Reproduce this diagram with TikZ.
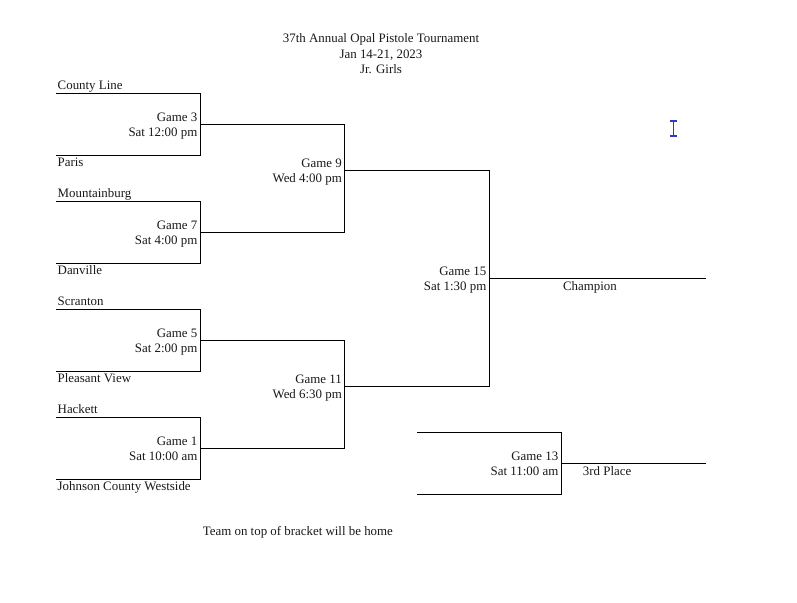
\documentclass[tikz,border=0pt]{standalone}
\usepackage{fontspec}
\setmainfont{Liberation Serif}
\begin{document}
\begin{tikzpicture}[x=1pt,y=-1pt,
  bline/.style={line width=0.9pt, black},
  txt/.style={font=\fontsize{12.9}{15.5}\selectfont, inner sep=0pt, text=black!90},
  gametxt/.style={txt, anchor=base east},
  teamtxt/.style={txt, anchor=base west},
  cursorline/.style={line width=1.1pt, color={rgb,255:red,40;green,60;blue,200}}]
\useasboundingbox[fill=white] (0,0) rectangle (797,602);

% title
\node[txt, anchor=base] (title1) at (381,42.8) {37th Annual Opal Pistole Tournament};
\node[txt, anchor=base] (title2) at (381,58.2) {Jan 14-21, 2023};
\node[txt, anchor=base] (title3) at (381,73.6) {Jr. Girls};

% coordinates
\coordinate (t3) at (56,93);   \coordinate (b3) at (56,155);  \coordinate (g3) at (200.5,124);
\coordinate (t7) at (56,201.5);\coordinate (b7) at (56,263);  \coordinate (g7) at (200.5,232);
\coordinate (t5) at (56,309);  \coordinate (b5) at (56,371);  \coordinate (g5) at (200.5,340.5);
\coordinate (t1) at (56,417);  \coordinate (b1) at (56,479);  \coordinate (g1) at (200.5,448);
\coordinate (g9) at (344.5,170.3);
\coordinate (g11) at (344.5,386.3);
\coordinate (g15) at (489,278.3);
\coordinate (champ) at (706,278.3);
\coordinate (t13) at (417,432.7); \coordinate (b13) at (417,494.3); \coordinate (g13) at (561.5,463.3);
\coordinate (third) at (706,463.3);

% brackets
\draw[bline] (t3) -| (g3) |- (b3);
\draw[bline] (t7) -| (g7) |- (b7);
\draw[bline] (t5) -| (g5) |- (b5);
\draw[bline] (t1) -| (g1) |- (b1);
\draw[bline] (g3) -| (g9);
\draw[bline] (g7) -| (g9);
\draw[bline] (g5) -| (g11);
\draw[bline] (g1) -| (g11);
\draw[bline] (g9) -| (g15);
\draw[bline] (g11) -| (g15);
\draw[bline] (g15) -- (champ);
\draw[bline] (t13) -| (g13) |- (b13);
\draw[bline] (g13) -- (third);

% team names
\node[teamtxt] (n1) at ([shift={(1.5,-3.7)}]t3) {County Line};
\node[teamtxt] (n2) at ([shift={(1.5,11.5)}]b3) {Paris};
\node[teamtxt] (n3) at ([shift={(1.5,-3.7)}]t7) {Mountainburg};
\node[teamtxt] (n4) at ([shift={(1.5,11.5)}]b7) {Danville};
\node[teamtxt] (n5) at ([shift={(1.5,-3.7)}]t5) {Scranton};
\node[teamtxt] (n6) at ([shift={(1.5,11.5)}]b5) {Pleasant View};
\node[teamtxt] (n7) at ([shift={(1.5,-3.7)}]t1) {Hackett};
\node[teamtxt] (n8) at ([shift={(1.5,11.5)}]b1) {Johnson County Westside};

% game labels
\node[gametxt] (l3a) at ([shift={(-3,-3)}]g3) {Game 3};
\node[gametxt] (l3b) at ([shift={(-3,12.3)}]g3) {Sat 12:00 pm};
\node[gametxt] (l7a) at ([shift={(-3,-3)}]g7) {Game 7};
\node[gametxt] (l7b) at ([shift={(-3,12.3)}]g7) {Sat 4:00 pm};
\node[gametxt] (l5a) at ([shift={(-3,-3)}]g5) {Game 5};
\node[gametxt] (l5b) at ([shift={(-3,12.3)}]g5) {Sat 2:00 pm};
\node[gametxt] (l1a) at ([shift={(-3,-3)}]g1) {Game 1};
\node[gametxt] (l1b) at ([shift={(-3,12.3)}]g1) {Sat 10:00 am};
\node[gametxt] (l9a) at ([shift={(-2.5,-3)}]g9) {Game 9};
\node[gametxt] (l9b) at ([shift={(-2.5,12.3)}]g9) {Wed 4:00 pm};
\node[gametxt] (l11a) at ([shift={(-2.5,-3)}]g11) {Game 11};
\node[gametxt] (l11b) at ([shift={(-2.5,12.3)}]g11) {Wed 6:30 pm};
\node[gametxt] (l15a) at ([shift={(-2.5,-3)}]g15) {Game 15};
\node[gametxt] (l15b) at ([shift={(-2.5,12.3)}]g15) {Sat 1:30 pm};
\node[gametxt] (l13a) at ([shift={(-3,-3)}]g13) {Game 13};
\node[gametxt] (l13b) at ([shift={(-3,12.3)}]g13) {Sat 11:00 am};

\node[txt, anchor=base] (champlbl) at (590,290.5) {Champion};
\node[txt, anchor=base west] (thirdlbl) at (582.7,475) {3rd Place};

\node[txt, anchor=base west] (foot) at (202.7,535.7) {Team on top of bracket will be home};

% mouse cursor
\coordinate (ct) at (673.3,121); \coordinate (cb) at (673.3,136);
\draw[cursorline] (ct) -- (cb);
\draw[cursorline] ([xshift=-3.5pt]ct) -- ([xshift=3.5pt]ct);
\draw[cursorline] ([xshift=-3.5pt]cb) -- ([xshift=3.5pt]cb);
\end{tikzpicture}
\end{document}
